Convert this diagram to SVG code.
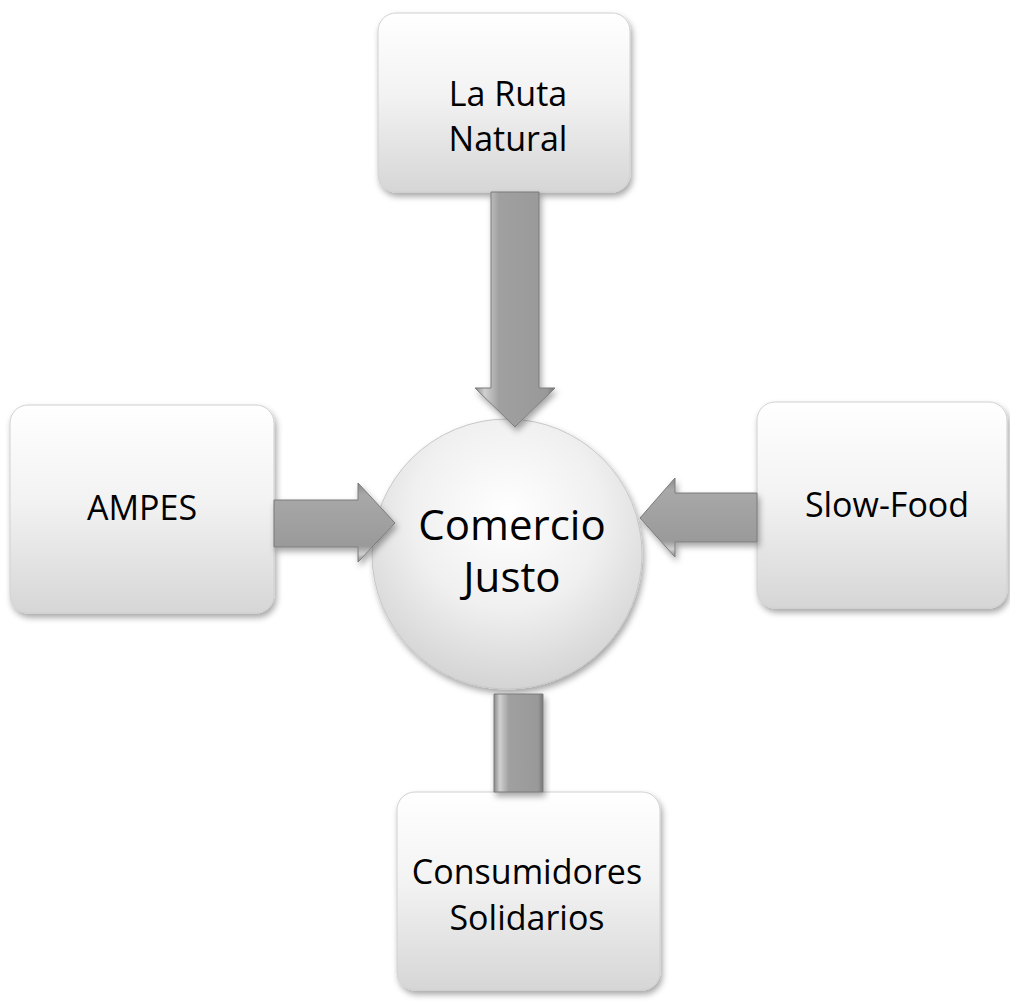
<svg xmlns="http://www.w3.org/2000/svg" width="1010" height="1001" viewBox="0 0 1010 1001">
<defs>
<linearGradient id="boxg" x1="0" y1="0" x2="0" y2="1">
<stop offset="0" stop-color="#ffffff"/>
<stop offset="0.45" stop-color="#f3f3f3"/>
<stop offset="1" stop-color="#d6d6d6"/>
</linearGradient>
<radialGradient id="circg" cx="0.5" cy="0.35" r="0.7">
<stop offset="0" stop-color="#ffffff"/>
<stop offset="0.5" stop-color="#f0f0f0"/>
<stop offset="1" stop-color="#cfcfcf"/>
</radialGradient>
<linearGradient id="vshaft" x1="0" y1="0" x2="1" y2="0">
<stop offset="0" stop-color="#8a8a8a"/>
<stop offset="0.12" stop-color="#d0d0d0"/>
<stop offset="0.3" stop-color="#a0a0a0"/>
<stop offset="0.9" stop-color="#999999"/>
<stop offset="1" stop-color="#777777"/>
</linearGradient>
<linearGradient id="hshaft" x1="0" y1="0" x2="0" y2="1">
<stop offset="0" stop-color="#8a8a8a"/>
<stop offset="0.15" stop-color="#a8a8a8"/>
<stop offset="0.8" stop-color="#9a9a9a"/>
<stop offset="0.9" stop-color="#d0d0d0"/>
<stop offset="1" stop-color="#888888"/>
</linearGradient>
<filter id="sh" x="-10%" y="-10%" width="125%" height="125%">
<feDropShadow dx="2" dy="4" stdDeviation="3" flood-color="#000" flood-opacity="0.35"/>
</filter>
</defs>
<style>
.box{fill:url(#boxg);stroke:#d0d0d0;stroke-width:1;filter:url(#sh)}
.t{font-family:"Open Sans","Liberation Sans",sans-serif;font-size:34px;fill:#000;text-anchor:middle}
.big{font-size:42px}
.arr{stroke:#7a7a7a;stroke-width:1;filter:url(#sh)}
</style>
<g id="node-top">
<rect class="box" x="378" y="13" width="252" height="179" rx="18"/>
<text class="t" x="508" y="106">La Ruta</text>
<text class="t" x="508" y="151">Natural</text>
</g>
<g id="node-left">
<rect class="box" x="10" y="405" width="264" height="208" rx="18"/>
<text class="t" x="142" y="520">AMPES</text>
</g>
<g id="node-right">
<rect class="box" x="757" y="402" width="250" height="206" rx="18"/>
<text class="t" x="887" y="517">Slow-Food</text>
</g>
<g id="node-bottom">
<rect class="box" x="397" y="792" width="263" height="198" rx="18"/>
<text class="t" x="527" y="884">Consumidores</text>
<text class="t" x="527" y="930">Solidarios</text>
</g>
<g id="node-center">
<circle cx="507" cy="554" r="135" fill="url(#circg)" stroke="#c8c8c8" stroke-width="1" filter="url(#sh)"/>
<text class="t big" x="512" y="540">Comercio</text>
<text class="t big" x="512" y="592">Justo</text>
</g>
<g id="connectors">
<polygon class="arr" fill="url(#vshaft)" points="491,192 539,192 539,388 555,388 515,427 475,388 491,388"/>
<polygon class="arr" fill="url(#hshaft)" points="274,500 358,500 358,483 395,523 358,562 358,547 274,547"/>
<polygon class="arr" fill="url(#hshaft)" points="757,493 675,493 675,478 640,518 675,557 675,542 757,542"/>
<polygon class="arr" fill="url(#vshaft)" points="494,694 543,694 543,792 494,792"/>
</g>
</svg>
